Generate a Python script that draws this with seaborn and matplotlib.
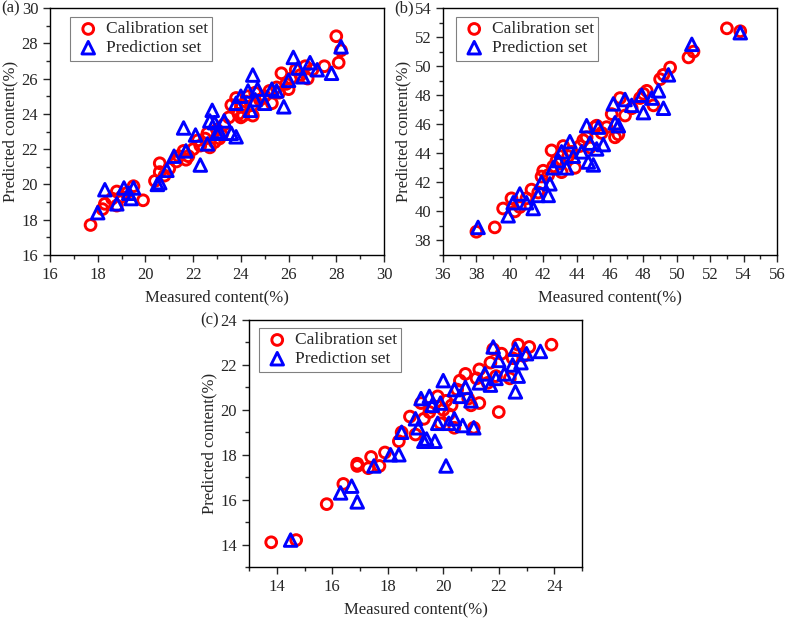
"""
Measured vs predicted content scatter plots, three panels
"""

import numpy as np
import pandas as pd
import matplotlib

matplotlib.use("Agg")
import matplotlib.pyplot as plt
from matplotlib.ticker import MultipleLocator
import seaborn as sns

# Panel (a) data
a_cal_x = [17.7, 18.2, 18.3, 18.6, 18.8, 18.8, 19.0, 19.2, 19.5, 19.9, 20.4, 20.6, 20.6, 20.8,
           21.0, 21.3, 21.4, 21.6, 21.7, 21.8, 22.0, 22.2, 22.5, 22.6, 22.7, 22.9, 23.0, 23.2,
           23.3, 23.5, 23.6, 23.8, 23.9, 24.0, 24.1, 24.2, 24.3, 24.5, 24.5, 24.6, 24.8, 25.0,
           25.2, 25.3, 25.5, 25.6, 25.7, 25.9, 26.0, 26.1, 26.3, 26.5, 26.7, 26.8, 27.0, 27.5,
           28.0, 28.1, 28.2, 23.1, 22.3, 24.0]
a_cal_y = [17.7, 18.6, 18.9, 19.2, 18.8, 19.6, 19.3, 19.5, 19.9, 19.1, 20.2, 21.2, 20.7, 20.5,
           20.9, 21.3, 21.6, 21.9, 21.4, 21.6, 22.0, 22.5, 22.6, 22.9, 22.1, 22.4, 23.1, 22.8,
           23.4, 23.8, 24.5, 24.9, 24.0, 24.4, 23.9, 24.7, 25.0, 24.5, 23.9, 25.2, 24.8, 25.0,
           25.3, 24.6, 25.5, 25.2, 26.3, 25.7, 25.4, 26.0, 26.5, 26.2, 26.7, 26.0, 26.5, 26.7,
           28.4, 26.9, 27.6, 22.6, 22.2, 23.8]
a_pre_x = [18.0, 18.3, 18.8, 19.1, 19.3, 19.4, 19.5, 20.5, 20.6, 20.9, 21.2, 21.6, 21.7, 22.1,
           22.3, 22.6, 22.7, 22.8, 22.9, 23.0, 23.1, 23.3, 23.6, 23.8, 23.8, 24.0, 24.3, 24.4,
           24.5, 24.6, 24.7, 25.0, 25.3, 25.5, 25.8, 26.0, 26.2, 26.4, 26.6, 26.9, 27.2, 27.8, 28.2]
a_pre_y = [18.4, 19.7, 18.9, 19.8, 19.5, 19.2, 19.8, 20.0, 20.1, 20.8, 21.6, 23.2, 21.9, 22.8,
           21.1, 22.3, 23.6, 24.2, 23.5, 22.9, 23.0, 23.6, 22.9, 22.7, 24.6, 25.0, 25.3, 24.2,
           26.2, 24.8, 25.4, 24.6, 25.4, 25.3, 24.4, 25.9, 27.2, 26.6, 26.1, 26.9, 26.5, 26.3, 27.8]

# Panel (b) data
b_cal_x = [38.0, 39.1, 39.6, 40.1, 40.3, 40.6, 41.0, 41.3, 41.7, 41.9, 42.0, 42.3, 42.5, 42.6,
           42.8, 43.0, 43.1, 43.2, 43.5, 43.7, 43.9, 44.2, 44.4, 44.6, 44.8, 45.1, 45.2, 45.5,
           45.8, 46.1, 46.3, 46.5, 46.6, 46.9, 47.3, 47.8, 48.0, 48.2, 48.6, 49.0, 49.2, 49.6,
           50.7, 51.0, 53.0, 53.8]
b_cal_y = [38.6, 38.9, 40.2, 40.9, 40.0, 40.3, 40.9, 41.5, 41.3, 42.4, 42.8, 42.5, 44.2, 43.1,
           43.5, 43.3, 42.7, 44.5, 43.8, 44.1, 43.0, 44.5, 44.9, 45.1, 44.4, 45.8, 45.9, 45.4,
           45.8, 46.7, 45.1, 45.3, 47.8, 46.6, 47.1, 47.8, 48.1, 48.3, 47.3, 49.1, 49.4, 49.9,
           50.6, 51.0, 52.6, 52.4]
b_pre_x = [38.1, 39.9, 40.2, 40.6, 41.0, 41.4, 41.7, 41.9, 42.3, 42.4, 42.6, 42.9, 43.1, 43.4,
           43.6, 43.8, 44.3, 44.6, 44.7, 44.8, 45.0, 45.2, 45.3, 45.6, 46.2, 46.3, 46.5, 46.9,
           47.3, 47.9, 48.0, 48.5, 48.9, 49.2, 49.5, 50.9, 53.8]
b_pre_y = [38.9, 39.7, 40.6, 41.2, 40.6, 40.2, 41.1, 42.0, 41.1, 41.9, 43.0, 43.5, 44.1, 43.0,
           44.8, 43.8, 44.1, 45.9, 43.4, 44.7, 43.2, 44.3, 45.8, 44.6, 47.4, 46.1, 45.9, 47.7,
           47.3, 48.0, 46.8, 47.8, 48.3, 47.1, 49.4, 51.5, 52.3]

# Panel (c) data
c_cal_x = [13.8, 14.7, 15.8, 16.4, 16.9, 16.9, 17.3, 17.4, 17.7, 17.9, 18.4, 18.5, 18.8, 19.0,
           19.2, 19.3, 19.5, 19.6, 19.8, 19.9, 20.0, 20.1, 20.3, 20.4, 20.5, 20.6, 20.8, 20.9,
           21.0, 21.1, 21.2, 21.3, 21.3, 21.6, 21.7, 21.9, 22.0, 22.1, 22.4, 22.5, 22.7, 22.9,
           23.1, 23.9, 21.8, 20.2]
c_cal_y = [14.1, 14.2, 15.8, 16.7, 17.6, 17.5, 17.4, 17.9, 17.5, 18.1, 18.6, 19.0, 19.7, 18.9,
           20.3, 19.6, 19.9, 20.1, 20.6, 19.4, 20.0, 20.4, 20.2, 19.2, 20.9, 21.3, 21.6, 20.5,
           20.2, 19.2, 21.4, 21.8, 20.3, 21.2, 22.1, 21.5, 19.9, 22.5, 21.4, 22.3, 22.9, 22.4,
           22.8, 22.9, 22.7, 19.8]
c_pre_x = [14.5, 16.3, 16.7, 16.9, 17.5, 18.1, 18.4, 18.5, 19.0, 19.1, 19.2, 19.3, 19.4, 19.5,
           19.6, 19.7, 19.8, 19.9, 20.0, 20.1, 20.2, 20.4, 20.4, 20.6, 20.7, 20.8, 21.0, 21.1,
           21.3, 21.5, 21.7, 21.8, 21.9, 22.0, 22.2, 22.5, 22.6, 22.6, 22.7, 22.8, 23.0, 23.5]
c_pre_y = [14.2, 16.3, 16.6, 15.9, 17.5, 18.0, 18.0, 19.0, 19.6, 19.2, 20.5, 18.6, 18.7, 20.6,
           20.2, 18.6, 19.4, 20.3, 21.3, 17.5, 19.4, 19.6, 20.9, 20.6, 19.3, 21.0, 20.4, 19.2,
           21.2, 21.6, 21.1, 22.8, 21.4, 22.2, 21.6, 22.0, 20.8, 22.7, 21.5, 22.1, 22.5, 22.6]


def draw_panel(ax, cal_x, cal_y, pre_x, pre_y, xlim, ylim, label, leg_anchor):
    """Draw one measured/predicted scatter panel"""
    cal = pd.DataFrame({"x": cal_x, "y": cal_y})
    pre = pd.DataFrame({"x": pre_x, "y": pre_y})

    sns.scatterplot(data=cal, x="x", y="y", ax=ax, marker="o", s=60,
                    facecolors="none", edgecolor="#ff0000", linewidth=2.1,
                    label="Calibration set")
    sns.scatterplot(data=pre, x="x", y="y", ax=ax, marker="^", s=82,
                    facecolors="none", edgecolor="#0000ff", linewidth=2.1,
                    label="Prediction set")

    ax.set_xlim(*xlim)
    ax.set_ylim(*ylim)
    ax.xaxis.set_major_locator(MultipleLocator(2))
    ax.xaxis.set_minor_locator(MultipleLocator(1))
    ax.yaxis.set_major_locator(MultipleLocator(2))
    ax.yaxis.set_minor_locator(MultipleLocator(1))
    ax.tick_params(which="major", direction="out", length=5, width=1, labelsize=12)
    ax.tick_params(which="minor", direction="out", length=3, width=1)
    for side in ax.spines.values():
        side.set_linewidth(1.0)
        side.set_color("black")

    ax.set_xlabel("Measured content(%)", fontsize=12, labelpad=5)
    ax.set_ylabel("Predicted content(%)", fontsize=12, labelpad=2)

    leg = ax.legend(loc="upper left", bbox_to_anchor=leg_anchor, borderaxespad=0,
                    fontsize=12.5, frameon=True, fancybox=False, framealpha=1,
                    handletextpad=0.2, borderpad=0.25, labelspacing=0.15,
                    handlelength=1.6)
    leg.get_frame().set_edgecolor("#808080")
    leg.get_frame().set_linewidth(0.8)

    ax.text(-0.145, 1.0, label, transform=ax.transAxes, fontsize=12,
            ha="left", va="center")


sns.set_theme(style="ticks")
plt.rcParams["font.family"] = ["Liberation Serif", "DejaVu Serif"]

fig = plt.figure(figsize=(7.87, 6.21), dpi=100)
ax_a = fig.add_axes([50 / 787, 1 - 255 / 621, 334 / 787, 247 / 621])
ax_b = fig.add_axes([443 / 787, 1 - 255 / 621, 334 / 787, 247 / 621])
ax_c = fig.add_axes([249 / 787, 1 - 567 / 621, 333 / 787, 247 / 621])

draw_panel(ax_a, a_cal_x, a_cal_y, a_pre_x, a_pre_y, (16, 30), (16, 30), "(a)",
           (20 / 334, 1 - 9 / 247))
draw_panel(ax_b, b_cal_x, b_cal_y, b_pre_x, b_pre_y, (36, 56), (37, 54), "(b)",
           (13 / 334, 1 - 9 / 247))
draw_panel(ax_c, c_cal_x, c_cal_y, c_pre_x, c_pre_y, (13, 25), (13, 24), "(c)",
           (10 / 333, 1 - 8 / 247))

# (b) shows ticks only at even values starting at 38
ax_b.set_yticks(np.arange(38, 55, 2))

fig.savefig("out.png", dpi=100)
plt.close(fig)
